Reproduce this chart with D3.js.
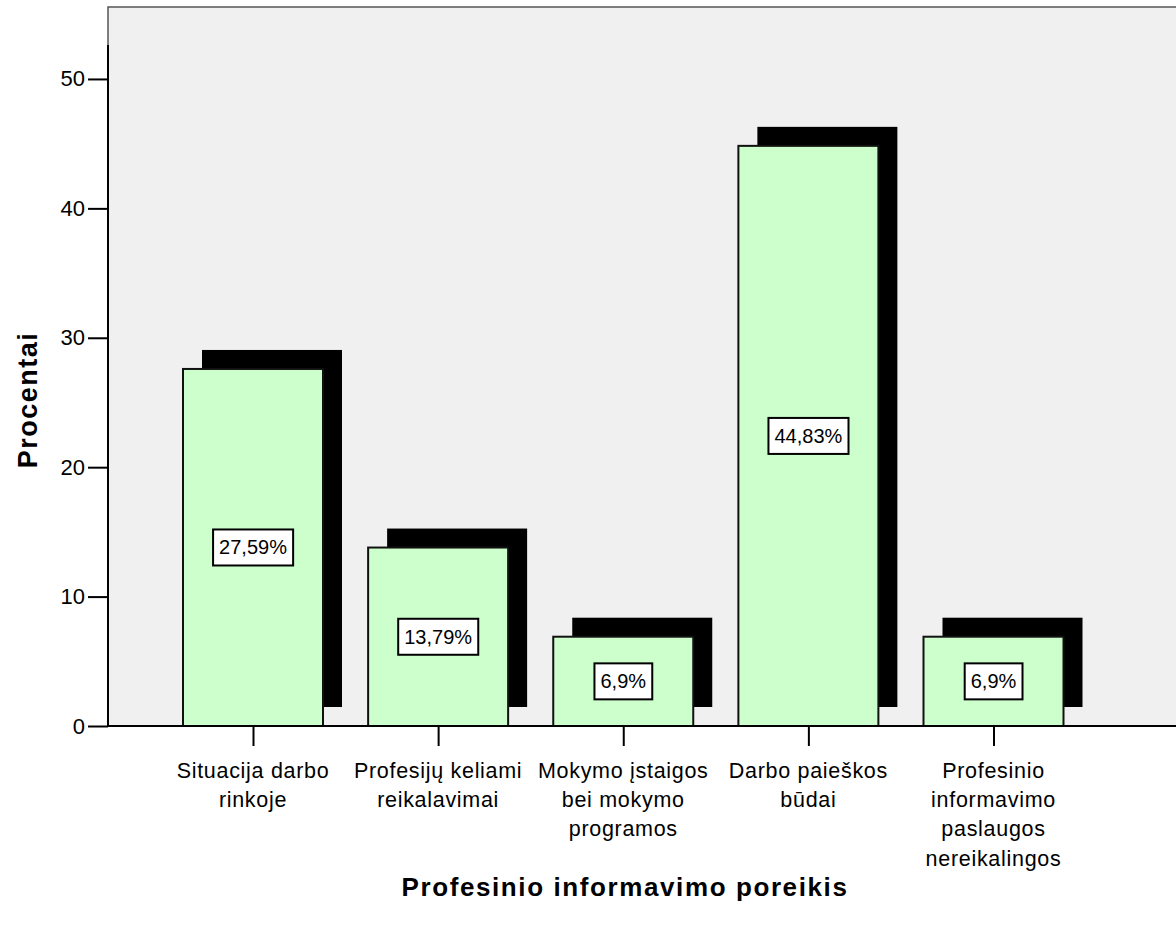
<!DOCTYPE html>
<html>
<head>
<meta charset="utf-8">
<script src="https://cdn.jsdelivr.net/npm/d3@7"></script>
<style>
html,body{margin:0;padding:0;background:#fff;}
svg{display:block;}
text{font-family:"Liberation Sans", Arial, sans-serif;}
</style>
</head>
<body>
<svg id="chart" width="1176" height="931"></svg>
<script>
const categories = [
  "Situacija darbo rinkoje",
  "Profesijų keliami reikalavimai",
  "Mokymo įstaigos bei mokymo programos",
  "Darbo paieškos būdai",
  "Profesinio informavimo paslaugos nereikalingos"
];
const tickLines = [
  ["Situacija darbo", "rinkoje"],
  ["Profesijų keliami", "reikalavimai"],
  ["Mokymo įstaigos", "bei mokymo", "programos"],
  ["Darbo paieškos", "būdai"],
  ["Profesinio", "informavimo", "paslaugos", "nereikalingos"]
];
const values = [27.59, 13.79, 6.9, 44.83, 6.9];
const valueLabels = ["27,59%", "13,79%", "6,9%", "44,83%", "6,9%"];
const yTicks = [0, 10, 20, 30, 40, 50];
const xTitle = "Profesinio informavimo poreikis";
const yTitle = "Procentai";

const svg = d3.select("#chart");
const plot = {left:108, top:7, right:1176, bottom:726};

const y = d3.scaleLinear().domain([0, 55.56]).range([plot.bottom, plot.top]);
const x = d3.scalePoint().domain(categories).range([253, 993.5]);
const barW = 140;
const shadowOff = 19;

// plot background
svg.append("rect")
  .attr("x", plot.left).attr("y", plot.top)
  .attr("width", plot.right - plot.left + 2).attr("height", plot.bottom - plot.top)
  .attr("fill", "#f0f0f0").attr("stroke", "#555").attr("stroke-width", 1.5);

// shadows
svg.append("g").selectAll("rect").data(values).join("rect")
  .attr("x", (d,i) => x(categories[i]) - barW/2 + shadowOff)
  .attr("y", d => y(d) - shadowOff)
  .attr("width", barW)
  .attr("height", d => y(0) - y(d))
  .attr("fill", "#000");

// bars
svg.append("g").selectAll("rect").data(values).join("rect")
  .attr("x", (d,i) => x(categories[i]) - barW/2)
  .attr("y", d => y(d))
  .attr("width", barW)
  .attr("height", d => y(0) - y(d))
  .attr("fill", "#ccffcc")
  .attr("stroke", "#111").attr("stroke-width", 2);

// value labels
const lg = svg.append("g").selectAll("g").data(values).join("g")
  .attr("transform", (d,i) => `translate(${x(categories[i])},${(y(d)+y(0))/2})`);
lg.append("text")
  .attr("text-anchor", "middle").attr("dy", "0.35em")
  .attr("font-size", 20).attr("fill", "#000")
  .text((d,i) => valueLabels[i]);
lg.each(function(){
  const g = d3.select(this);
  const bb = g.select("text").node().getBBox();
  g.insert("rect", "text")
    .attr("x", bb.x - 6).attr("y", -18)
    .attr("width", bb.width + 12).attr("height", 36)
    .attr("fill", "#fff").attr("stroke", "#000").attr("stroke-width", 2);
});

// y axis
const yAxis = d3.axisLeft(y).tickValues(yTicks).tickSize(20).tickPadding(3).tickFormat(d3.format("d"));
const yg = svg.append("g").attr("transform", `translate(${plot.left},0)`).call(yAxis);
yg.select(".domain").remove();
yg.selectAll(".tick line").attr("stroke", "#000").attr("stroke-width", 2);
yg.selectAll(".tick text").attr("font-size", 22).attr("fill", "#000")
  .attr("font-family", '"Liberation Sans", Arial, sans-serif');
yg.append("line").attr("x1", 0).attr("x2", 0).attr("y1", y(0)).attr("y2", 45)
  .attr("stroke", "#000").attr("stroke-width", 2);

// x axis
const xAxis = d3.axisBottom(x).tickSize(20).tickFormat("");
const xg = svg.append("g").attr("transform", `translate(0,${plot.bottom})`).call(xAxis);
xg.select(".domain").remove();
xg.selectAll(".tick line").attr("stroke", "#000").attr("stroke-width", 2);
xg.append("line").attr("x1", plot.left).attr("x2", plot.right).attr("y1", 0).attr("y2", 0)
  .attr("stroke", "#000").attr("stroke-width", 2);

const tl = svg.append("g").selectAll("text").data(categories).join("text")
  .attr("text-anchor", "middle").attr("font-size", 21.5).attr("letter-spacing", 0.7).attr("fill", "#000")
  .attr("transform", d => `translate(${x(d)},778)`);
tl.each(function(d,i){
  d3.select(this).selectAll("tspan").data(tickLines[i]).join("tspan")
    .attr("x", 0).attr("y", (t,j) => j*29.2).text(t => t);
});

// titles
svg.append("text").attr("x", 625).attr("y", 896).attr("text-anchor", "middle")
  .attr("font-size", 26).attr("letter-spacing", 1.6).attr("font-weight", "bold").attr("fill", "#000").text(xTitle);
svg.append("text").attr("transform", `translate(37,400) rotate(-90)`).attr("text-anchor", "middle")
  .attr("font-size", 27).attr("letter-spacing", 1.5).attr("font-weight", "bold").attr("fill", "#000").text(yTitle);
</script>
</body>
</html>
